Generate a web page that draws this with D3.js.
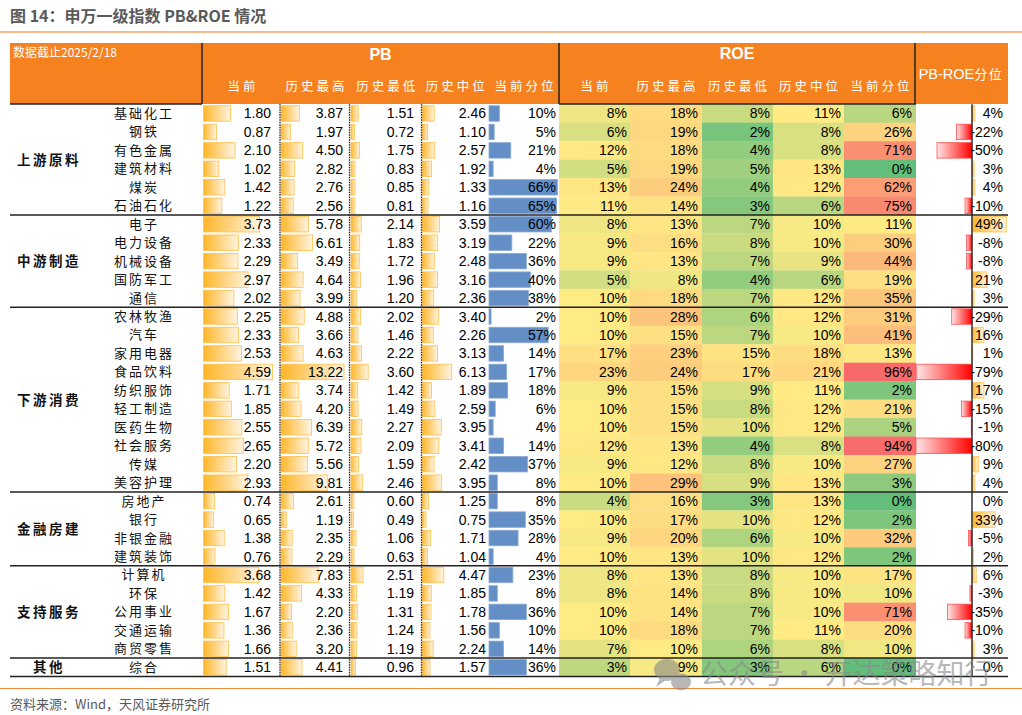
<!DOCTYPE html>
<html><head><meta charset="utf-8">
<script src="https://cdn.jsdelivr.net/npm/d3@7"></script>
<style>body{margin:0;background:#fff}svg{display:block}</style>
</head><body>
<svg id="c" width="1022" height="715"></svg>
<script>
// ---------------- DATA ----------------
const groupNames = ["上游原料","中游制造","下游消费","金融房建","支持服务","其他"];
const groupCounts = [6,5,10,4,5,1];
const industries = ["基础化工","钢铁","有色金属","建筑材料","煤炭","石油石化",
  "电子","电力设备","机械设备","国防军工","通信",
  "农林牧渔","汽车","家用电器","食品饮料","纺织服饰","轻工制造","医药生物","社会服务","传媒","美容护理",
  "房地产","银行","非银金融","建筑装饰",
  "计算机","环保","公用事业","交通运输","商贸零售",
  "综合"];
const subHeaders = ["当前","历史最高","历史最低","历史中位","当前分位"];
const pbCurrent = [1.80,0.87,2.10,1.02,1.42,1.22, 3.73,2.33,2.29,2.97,2.02, 2.25,2.33,2.53,4.59,1.71,1.85,2.55,2.65,2.20,2.93, 0.74,0.65,1.38,0.76, 3.68,1.42,1.67,1.36,1.66, 1.51];
const pbHigh = [3.87,1.97,4.50,2.82,2.76,2.56, 5.78,6.61,3.49,4.64,3.99, 4.88,3.66,4.63,13.22,3.74,4.20,6.39,5.72,5.56,9.81, 2.61,1.19,2.35,2.29, 7.83,4.33,2.20,2.36,3.20, 4.41];
const pbLow = [1.51,0.72,1.75,0.83,0.85,0.81, 2.14,1.83,1.72,1.96,1.20, 2.02,1.46,2.22,3.60,1.42,1.49,2.27,2.09,1.59,2.46, 0.60,0.49,1.06,0.63, 2.51,1.19,1.31,1.24,1.19, 0.96];
const pbMedian = [2.46,1.10,2.57,1.92,1.33,1.16, 3.59,3.19,2.48,3.16,2.36, 3.40,2.26,3.13,6.13,1.89,2.59,3.95,3.41,2.42,3.95, 1.25,0.75,1.71,1.04, 4.47,1.85,1.78,1.56,2.24, 1.57];
const pbPercentile = [10,5,21,4,66,65, 60,22,36,40,38, 2,57,14,17,18,6,4,14,37,8, 8,35,28,4, 23,8,36,10,14, 36];
const roeCurrent = [8,6,12,5,13,11, 8,9,9,5,10, 10,10,17,23,9,10,10,12,9,10, 4,10,9,10, 8,8,10,10,7, 3];
const roeHigh = [18,19,18,19,24,14, 13,16,13,8,18, 28,15,23,24,15,15,15,13,12,29, 16,17,20,13, 13,14,14,18,10, 9];
const roeLow = [8,2,4,5,4,3, 7,8,7,4,7, 6,7,15,17,9,8,10,4,8,9, 3,10,6,10, 8,8,7,7,6, 3];
const roeMedian = [11,8,8,13,12,6, 10,10,9,6,12, 12,10,18,21,11,12,12,8,10,13, 13,12,10,12, 10,10,10,11,8, 6];
const roePercentile = [6,26,71,0,62,75, 11,30,44,19,35, 31,41,13,96,2,21,5,94,27,3, 0,2,32,2, 17,10,71,20,10, 0];
const pbRoePercentile = [4,-22,-50,3,4,-10, 49,-8,-8,21,3, -29,16,1,-79,17,-15,-1,-80,9,4, 0,33,-5,2, 6,-3,-35,-10,3, 0];

// ---------------- LAYOUT ----------------
const svg = d3.select("#c");
const L = 10, R = 1008;
const headTop = 43, headBot = 104;
const rowTop = 104.25, rowBot = 676.5;
const ORANGE = "#f5821f";
const numFont = "'Liberation Sans', Arial, sans-serif";
const cjkFont = "'Noto Sans CJK SC', sans-serif";

const y = d3.scaleBand().domain(industries).range([rowTop, rowBot]);
const rh = y.bandwidth();

const defs = svg.append("defs");
const gO = defs.append("linearGradient").attr("id","gOrange").attr("x1",0).attr("x2",1).attr("y1",0).attr("y2",0);
gO.append("stop").attr("offset",0).attr("stop-color","#ffb628");
gO.append("stop").attr("offset",1).attr("stop-color","#fff4e2");
const gR = defs.append("linearGradient").attr("id","gRed").attr("x1",0).attr("x2",1).attr("y1",0).attr("y2",0);
gR.append("stop").attr("offset",0).attr("stop-color","#ffe6e6");
gR.append("stop").attr("offset",1).attr("stop-color","#ff0000");

// Title
svg.append("text").attr("x",10).attr("y",22).attr("font-family",cjkFont).attr("font-weight",700)
  .attr("font-size",16).attr("fill","#595959").text("图 14：申万一级指数 PB&ROE 情况");
svg.append("line").attr("x1",0).attr("x2",1022).attr("y1",32).attr("y2",32)
  .attr("stroke","#f6b989").attr("stroke-width",2);

// Header
svg.append("rect").attr("x",L).attr("y",headTop).attr("width",R-L).attr("height",headBot-headTop).attr("fill",ORANGE);
svg.append("text").attr("x",13).attr("y",57).attr("font-family",cjkFont).attr("font-size",12)
  .attr("fill","#fff").text("数据截止2025/2/18");
svg.append("text").attr("x",380.5).attr("y",60).attr("text-anchor","middle").attr("font-family",numFont)
  .attr("font-weight",700).attr("font-size",16).attr("fill","#fff").text("PB");
svg.append("text").attr("x",737).attr("y",59).attr("text-anchor","middle").attr("font-family",numFont)
  .attr("font-weight",700).attr("font-size",16).attr("fill","#fff").text("ROE");
const pbEdges = [203,280,350,421.5,489,559];
const roeEdges = [559,630,702,773,844,916];
[pbEdges, roeEdges].forEach(ed => {
  subHeaders.forEach((s,i) => {
    svg.append("text").attr("x",(ed[i]+ed[i+1])/2 + 1.5).attr("y",91).attr("text-anchor","middle")
      .attr("font-family",cjkFont).attr("font-size",12.5).attr("letter-spacing",3)
      .attr("fill","#fff").text(s);
  });
});
const prh = svg.append("text").attr("x",961).attr("y",79).attr("text-anchor","middle").attr("fill","#fff");
prh.append("tspan").attr("font-family",numFont).attr("font-size",14.5).text("PB-ROE");
prh.append("tspan").attr("font-family",cjkFont).attr("font-size",13).attr("letter-spacing",1.5).text("分位");
[202,559,915].forEach(x => svg.append("line").attr("x1",x).attr("x2",x).attr("y1",headTop).attr("y2",headBot)
  .attr("stroke","#222").attr("stroke-width",1.5));

// ---------------- ROE heat cells ----------------
const heatRange = ["#63BE7B","#FFEB84","#F8696B"];
const roeCols = [
  {vals: roeCurrent, dom: [-7,10,90]},
  {vals: roeHigh, dom: [-10,10,70]},
  {vals: roeLow, dom: [0.5,12,60]},
  {vals: roeMedian, dom: [0.5,10.5,80]},
  {vals: roePercentile, dom: [0,11,96]}
];
const roeRight = [627,698,770,841,912];
roeCols.forEach((c,ci) => {
  const col = d3.scaleLinear().domain(c.dom).range(heatRange).clamp(true);
  svg.append("g").selectAll("rect").data(industries).join("rect")
    .attr("x",roeEdges[ci]).attr("width",roeEdges[ci+1]-roeEdges[ci])
    .attr("y",d=>y(d)).attr("height",rh+0.3)
    .attr("fill",(d,i)=>col(c.vals[i]));
  svg.append("g").selectAll("text").data(industries).join("text")
    .attr("x",roeRight[ci]).attr("y",d=>y(d)+rh/2+5).attr("text-anchor","end")
    .attr("font-family",numFont).attr("font-size",14).attr("fill","#000")
    .text((d,i)=>c.vals[i]+"%");
});

// ---------------- PB data bars ----------------
const xCur = d3.scaleLinear().domain([0, d3.max(pbCurrent)]).range([0, 69]);
const xHist = d3.scaleLinear().domain([0, d3.max(pbHigh)]).range([0, 63]);
const xPct = d3.scaleLinear().domain([0, d3.max(pbPercentile)]).range([0, 68.5]);
const pbCols = [
  {vals: pbCurrent, x0: 203.5, sc: xCur, right: 271, fmt: d3.format(".2f"), blue:false},
  {vals: pbHigh, x0: 281, sc: xHist, right: 343, fmt: d3.format(".2f"), blue:false},
  {vals: pbLow, x0: 351, sc: xHist, right: 414, fmt: d3.format(".2f"), blue:false},
  {vals: pbMedian, x0: 422.5, sc: xHist, right: 486, fmt: d3.format(".2f"), blue:false},
  {vals: pbPercentile, x0: 489, sc: xPct, right: 556, fmt: v=>v+"%", blue:true}
];
pbCols.forEach(c => {
  svg.append("g").selectAll("rect").data(industries).join("rect")
    .attr("x",c.x0).attr("y",d=>y(d)+1.5).attr("height",rh-3)
    .attr("width",(d,i)=>Math.max(1,c.sc(c.vals[i])))
    .attr("fill",c.blue ? "#638ec6" : "url(#gOrange)")
    .attr("stroke",c.blue ? "#8aaad6" : "#ffc04a").attr("stroke-width",0.8);
  svg.append("g").selectAll("text").data(industries).join("text")
    .attr("x",c.right).attr("y",d=>y(d)+rh/2+5).attr("text-anchor","end")
    .attr("font-family",numFont).attr("font-size",14).attr("fill","#000")
    .text((d,i)=>c.fmt(c.vals[i]));
});
// dotted column dividers
[280,349.5,421.5].forEach(x => svg.append("line").attr("x1",x).attr("x2",x).attr("y1",rowTop).attr("y2",rowBot)
  .attr("stroke","#222").attr("stroke-width",1.3).attr("stroke-dasharray","1.5,1"));

// ---------------- PB-ROE diverging bars ----------------
const xDiv = d3.scaleLinear().domain([-80,80]).range([916,1028]);
svg.append("g").selectAll("rect").data(industries).join("rect")
  .attr("x",(d,i)=>Math.min(xDiv(0),xDiv(pbRoePercentile[i])))
  .attr("width",(d,i)=>Math.abs(xDiv(pbRoePercentile[i])-xDiv(0)))
  .attr("y",d=>y(d)+1.5).attr("height",rh-3)
  .attr("fill",(d,i)=>pbRoePercentile[i]<0 ? "url(#gRed)" : "url(#gOrange)")
  .attr("stroke",(d,i)=>pbRoePercentile[i]<0 ? "#ff5050" : "#ffc04a").attr("stroke-width",0.8)
  .attr("display",(d,i)=>pbRoePercentile[i]===0 ? "none" : null);
svg.append("line").attr("x1",xDiv(0)).attr("x2",xDiv(0)).attr("y1",rowTop).attr("y2",rowBot)
  .attr("stroke","#333").attr("stroke-width",1.5);
svg.append("g").selectAll("text").data(industries).join("text")
  .attr("x",1003).attr("y",d=>y(d)+rh/2+5).attr("text-anchor","end")
  .attr("font-family",numFont).attr("font-size",14).attr("fill","#000")
  .text((d,i)=>pbRoePercentile[i]+"%");

// ---------------- Row labels ----------------
svg.append("g").selectAll("text").data(industries).join("text")
  .attr("x",144).attr("y",d=>y(d)+rh/2+4.5).attr("text-anchor","middle")
  .attr("font-family",cjkFont).attr("font-size",13).attr("letter-spacing",2).attr("fill","#111")
  .text(d=>d);

let start = 0;
const sepYs = [];
groupNames.forEach((g,gi) => {
  const first = industries[start], last = industries[start+groupCounts[gi]-1];
  const yc = (y(first) + y(last) + rh)/2;
  svg.append("text").attr("x", g.length===2 ? 33 : 17).attr("y",yc+5)
    .attr("font-family",cjkFont).attr("font-weight",700).attr("font-size",13.5).attr("letter-spacing",2.5)
    .attr("fill","#111").text(g);
  start += groupCounts[gi];
  sepYs.push(y(last)+rh);
});
sepYs.forEach(yy => svg.append("line").attr("x1",L).attr("x2",R).attr("y1",yy).attr("y2",yy)
  .attr("stroke","#222").attr("stroke-width",1.5));
[[L,202],[559,916]].forEach(([a,b]) => svg.append("line").attr("x1",a).attr("x2",b).attr("y1",headBot).attr("y2",headBot)
  .attr("stroke","#222").attr("stroke-width",1.3));

// ---------------- Footer ----------------
svg.append("line").attr("x1",0).attr("x2",1022).attr("y1",688.5).attr("y2",688.5)
  .attr("stroke","#f08a3c").attr("stroke-width",1.2);
svg.append("text").attr("x",10).attr("y",709).attr("font-family",cjkFont).attr("font-size",13)
  .attr("fill","#595959").text("资料来源：Wind，天风证券研究所");

// watermark
const wm = svg.append("g").attr("opacity",0.6).attr("fill","#8a8a8a");
wm.append("ellipse").attr("cx",667).attr("cy",670).attr("rx",13).attr("ry",11);
wm.append("ellipse").attr("cx",681).attr("cy",682).attr("rx",10).attr("ry",8.5);
wm.append("path").attr("d","M660 678 L656 687 L666 680 Z");
wm.append("text").attr("x",700).attr("y",684).attr("font-family",cjkFont).attr("font-size",28)
  .text("公众号 · 开达策略知行");
</script>
</body></html>
